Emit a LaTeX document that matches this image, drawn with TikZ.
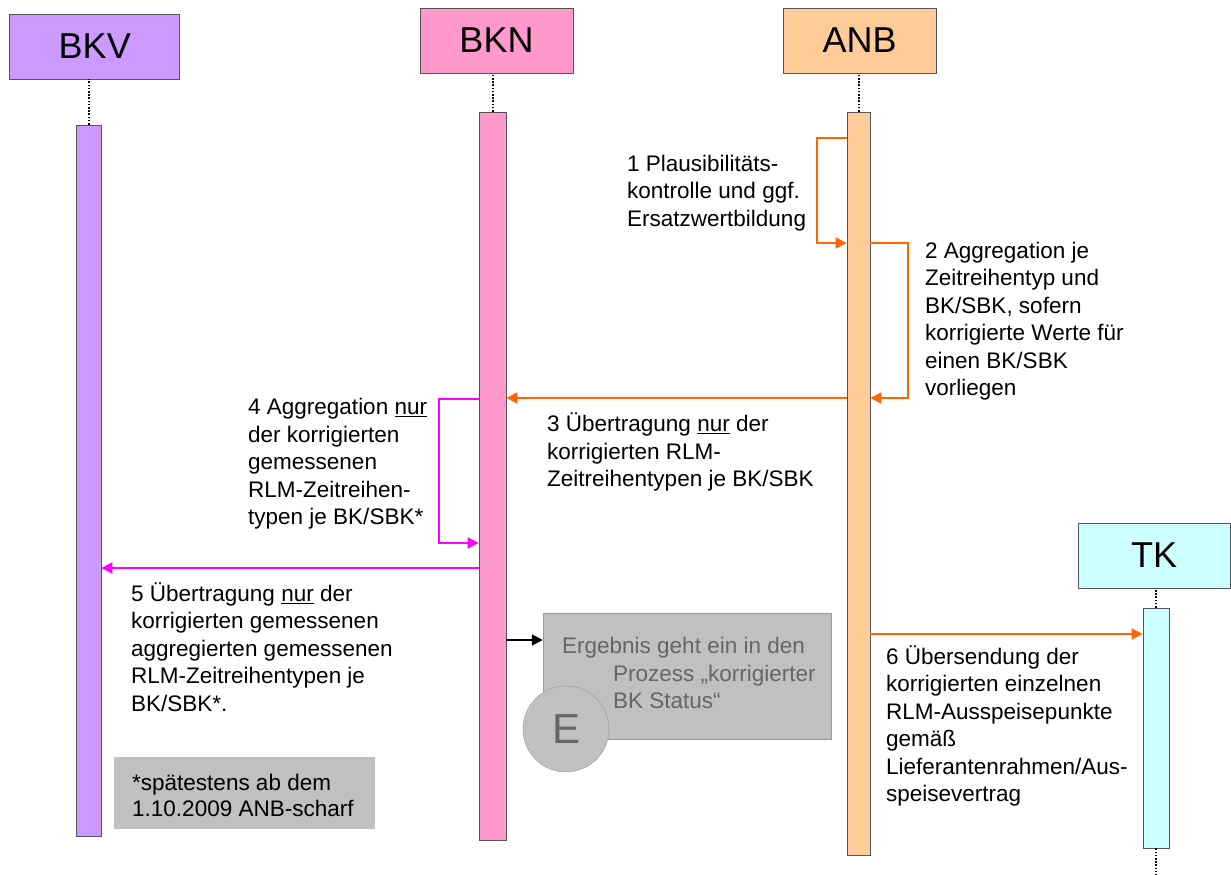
\documentclass[tikz,border=0pt]{standalone}
\usepackage{fontspec}
\setmainfont{Liberation Sans}
\usetikzlibrary{arrows.meta}
\definecolor{cbkv}{HTML}{CC99FF}
\definecolor{cbkn}{HTML}{FF99CC}
\definecolor{canb}{HTML}{FFCC99}
\definecolor{ctk}{HTML}{CCFFFF}
\definecolor{corange}{HTML}{FF6600}
\definecolor{cmag}{HTML}{FF00FF}
\definecolor{cgreybox}{HTML}{C0C0C0}
\definecolor{cgreyline}{HTML}{999999}
\definecolor{cgreytext}{HTML}{666666}
\definecolor{cborder}{HTML}{555555}
\tikzset{
  head/.style={draw=cborder, line width=0.8pt, minimum width=153pt, minimum height=65pt, inner sep=0pt, font=\fontsize{36}{40}\selectfont},
  lbar/.style={draw=cborder, line width=0.8pt, inner sep=0pt},
  life/.style={dash pattern=on 1.6pt off 1.6pt, line width=2pt},
  txt/.style={anchor=west, align=left, inner sep=0pt, font=\fontsize{22.5}{27.5}\selectfont},
  oarr/.style={draw=corange, line width=2pt, -{Triangle[length=11pt,width=11pt]}},
  marr/.style={draw=cmag, line width=2pt, -{Triangle[length=11pt,width=11pt]}},
}
\begin{document}
\begin{tikzpicture}[x=1pt,y=-1pt]
\useasboundingbox (0,0) rectangle (1231,875);
% heads
\node[head, fill=cbkv, minimum width=170pt] (bkv) at (94.75,46.5) {BKV};
\node[head, fill=cbkn] (bkn) at (496.5,40.5) {BKN};
\node[head, fill=canb] (anb) at (859.5,40.5) {ANB};
\node[head, fill=ctk, minimum width=152pt] (tk) at (1154,555.5) {TK};
% activation bars
\node[lbar, fill=cbkv, minimum width=25pt, minimum height=711pt] (bkvbar) at (88.5,480.5) {};
\node[lbar, fill=cbkn, minimum width=27pt, minimum height=728pt] (bknbar) at (492.5,476) {};
\node[lbar, fill=canb, minimum width=23pt, minimum height=743pt] (anbbar) at (858.5,483.5) {};
\node[lbar, fill=ctk, minimum width=26pt, minimum height=240pt] (tkbar) at (1156,728) {};
\coordinate (tkend) at (1156,875);
% lifelines
\draw[life] (bkvbar.north) -- (bkvbar.north |- bkv.south);
\draw[life] (bknbar.north) -- (bknbar.north |- bkn.south);
\draw[life] (anbbar.north) -- (anbbar.north |- anb.south);
\draw[life] (tkbar.north) -- (tkbar.north |- tk.south);
\draw[life] (tkbar.south) -- (tkend);
% 1 self loop
\draw[oarr] (anbbar.west |- 0,138) -- ++(-30,0) |- (anbbar.west |- 0,243);
% 2 self loop
\draw[oarr] (anbbar.east |- 0,243) -- ++(38,0) |- (anbbar.east |- 0,398);
% 3
\draw[oarr] (anbbar.west |- 0,398) -- (bknbar.east |- 0,398);
% 4 self loop
\draw[marr] (bknbar.west |- 0,399) -- ++(-40,0) |- (bknbar.west |- 0,543);
% 5
\draw[marr] (bknbar.west |- 0,568) -- (bkvbar.east |- 0,568);
% 6
\draw[oarr] (anbbar.east |- 0,634) -- (tkbar.west |- 0,634);
% result box
\node[draw=cgreyline, fill=cgreybox, minimum width=288pt, minimum height=126pt, inner sep=0pt] (res) at (687,676) {};
\node[txt, text=cgreytext] (restxt) at (562,673) {Ergebnis geht ein in den\\\hspace*{51pt}Prozess „korrigierter\\\hspace*{51pt}BK Status“};
\node[circle, draw=cgreyline, fill=cgreybox, minimum size=86pt, inner sep=0pt, text=cgreytext, font=\fontsize{42}{46}\selectfont] (e) at (566,729) {E};
\draw[line width=2pt, -{Triangle[length=11pt,width=11pt]}] (bknbar.east |- 0,640) -- (res.west |- 0,640);
% note box
\node[fill=cgreybox, minimum width=261pt, minimum height=72pt, inner sep=0pt] (note) at (244.5,793) {};
\node[txt, font=\fontsize{22.5}{26}\selectfont] (notetxt) at (132,795) {*spätestens ab dem\\1.10.2009 ANB-scharf};
% labels
\node[txt] (t1) at (627,193) {1 Plausibilitäts-\\kontrolle und ggf.\\Ersatzwertbildung};
\node[txt] (t2) at (925,321) {2 Aggregation je\\Zeitreihentyp und\\BK/SBK, sofern\\korrigierte Werte für\\einen BK/SBK\\vorliegen};
\node[txt] (t3) at (547,452) {3 Übertragung \underline{nur} der\\korrigierten RLM-\\Zeitreihentypen je BK/SBK};
\node[txt] (t4) at (248,464) {4 Aggregation \underline{nur}\\der korrigierten\\gemessenen\\RLM-Zeitreihen-\\typen je BK/SBK*};
\node[txt] (t5) at (131,647) {5 Übertragung \underline{nur} der\\korrigierten gemessenen\\aggregierten gemessenen\\RLM-Zeitreihentypen je\\BK/SBK*.};
\node[txt] (t6) at (886,726) {6 Übersendung der\\korrigierten einzelnen\\RLM-Ausspeisepunkte\\gemäß\\Lieferantenrahmen/Aus-\\speisevertrag};
\end{tikzpicture}
\end{document}
